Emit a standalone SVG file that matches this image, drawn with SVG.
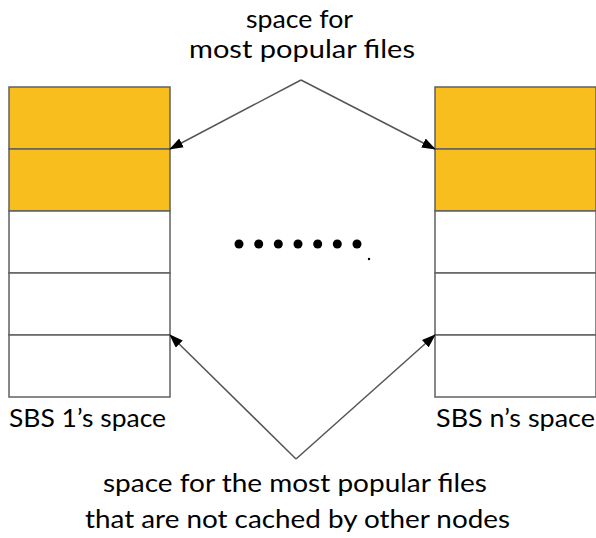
<svg xmlns="http://www.w3.org/2000/svg" width="596" height="538" viewBox="0 0 596 538">
<style>
.t{font-family:Lato,"Open Sans","Liberation Sans",sans-serif;font-size:25px;fill:#000}
.cell{stroke:#606060;stroke-width:1.5}
.hot{fill:#F8BE1E}
.cold{fill:#fff}
.conn{fill:none;stroke:#555;stroke-width:1.5}
</style>
<defs>
<marker id="ah" markerWidth="14" markerHeight="10" refX="13" refY="5" orient="auto" markerUnits="userSpaceOnUse">
<path d="M0,0 L14,5 L0,10 z" fill="#000"/>
</marker>
</defs>
<rect width="596" height="538" fill="#fff"/>
<g id="sbs1">
<rect class="cell hot" x="9" y="87" width="161" height="62"/>
<rect class="cell hot" x="9" y="149" width="161" height="62"/>
<rect class="cell cold" x="9" y="211" width="161" height="62"/>
<rect class="cell cold" x="9" y="273" width="161" height="62"/>
<rect class="cell cold" x="9" y="335" width="161" height="62"/>
<text class="t" x="9" y="427" textLength="157" lengthAdjust="spacingAndGlyphs">SBS 1’s space</text>
</g>
<g id="sbsn">
<rect class="cell hot" x="435" y="87" width="161" height="62"/>
<rect class="cell hot" x="435" y="149" width="161" height="62"/>
<rect class="cell cold" x="435" y="211" width="161" height="62"/>
<rect class="cell cold" x="435" y="273" width="161" height="62"/>
<rect class="cell cold" x="435" y="335" width="161" height="62"/>
<text class="t" x="436" y="427" textLength="159" lengthAdjust="spacingAndGlyphs">SBS n’s space</text>
</g>
<g id="dots" fill="#000">
<circle cx="239" cy="244" r="4.5"/>
<circle cx="258.7" cy="244" r="4.5"/>
<circle cx="278.3" cy="244" r="4.5"/>
<circle cx="298" cy="244" r="4.5"/>
<circle cx="317.7" cy="244" r="4.5"/>
<circle cx="337.3" cy="244" r="4.5"/>
<circle cx="357" cy="244" r="4.5"/>
<circle cx="369" cy="259" r="1.2"/>
</g>
<g id="label-top">
<text class="t" x="246" y="28" textLength="107" lengthAdjust="spacingAndGlyphs">space for</text>
<text class="t" x="189" y="58" textLength="226" lengthAdjust="spacingAndGlyphs">most popular files</text>
</g>
<g id="label-bottom">
<text class="t" x="103" y="492" textLength="384" lengthAdjust="spacingAndGlyphs">space for the most popular files</text>
<text class="t" x="85" y="528" textLength="425" lengthAdjust="spacingAndGlyphs">that are not cached by other nodes</text>
</g>
<g id="connectors">
<line class="conn" x1="301" y1="80" x2="170" y2="149" marker-end="url(#ah)"/>
<line class="conn" x1="301" y1="80" x2="435" y2="149" marker-end="url(#ah)"/>
<line class="conn" x1="296" y1="459" x2="170" y2="335" marker-end="url(#ah)"/>
<line class="conn" x1="296" y1="459" x2="435" y2="335" marker-end="url(#ah)"/>
</g>
</svg>
